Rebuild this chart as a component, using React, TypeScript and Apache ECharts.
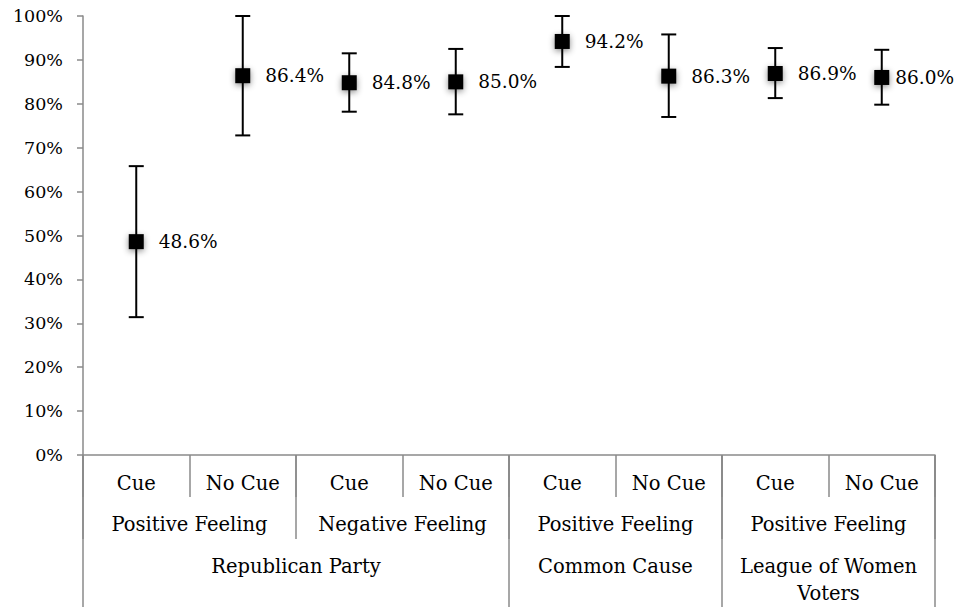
import React, { useEffect, useRef } from "react";
import * as echarts from "echarts";

const cueLabels = ["Cue", "No Cue", "Cue", "No Cue", "Cue", "No Cue", "Cue", "No Cue"];
const feelingLabels = ["Positive Feeling", "Negative Feeling", "Positive Feeling", "Positive Feeling"];
const groupLabels = ["", "", "Republican Party", "", "", "Common Cause", "", "League of Women\nVoters", ""];
const groupLabelIdx = [2, 5, 7];
const groupTickIdx = [0, 4, 6, 8];
const means = [48.6, 86.4, 84.8, 85.0, 94.2, 86.3, 86.9, 86.0];
const upper = [65.8, 100, 91.5, 92.5, 100, 95.8, 92.7, 92.3];
const lower = [31.4, 72.8, 78.2, 77.6, 88.4, 77.0, 81.3, 79.8];
const labelGaps = [15, 15, 15, 15, 15, 15, 15, 6];
const yTicks = [0, 10, 20, 30, 40, 50, 60, 70, 80, 90, 100];

const FONT = "DejaVu Serif";
const AXIS_COLOR = "#8a8a8a";

export default function App() {
  const ref = useRef<HTMLDivElement>(null);
  useEffect(() => {
    if (!ref.current) return;
    const chart = echarts.init(ref.current, undefined, { renderer: "svg" });
    const catStyle = { color: "#000", fontFamily: FONT, fontSize: 19.5 };
    chart.setOption({
      animation: false,
      grid: { left: 83, right: 21, top: 16, bottom: 149, containLabel: false },
      xAxis: [
        {
          type: "category",
          position: "bottom",
          data: cueLabels,
          boundaryGap: true,
          axisLine: { show: true, onZero: false, lineStyle: { color: AXIS_COLOR, width: 1.5 } },
          axisTick: { show: true, interval: 0, length: 42, lineStyle: { color: AXIS_COLOR, width: 1.5 } },
          axisLabel: { ...catStyle, interval: 0, margin: 18 },
          splitLine: { show: false },
        },
        {
          type: "category",
          position: "bottom",
          data: feelingLabels,
          boundaryGap: true,
          axisLine: { show: false, onZero: false },
          axisTick: { show: true, interval: 0, length: 84, lineStyle: { color: AXIS_COLOR, width: 1.5 } },
          axisLabel: { ...catStyle, interval: 0, margin: 59 },
          splitLine: { show: false },
        },
        {
          type: "category",
          position: "bottom",
          data: groupLabels,
          boundaryGap: false,
          axisLine: { show: false, onZero: false },
          axisTick: {
            show: true,
            length: 152,
            interval: (i: number) => groupTickIdx.indexOf(i) >= 0,
            lineStyle: { color: AXIS_COLOR, width: 1.5 },
          },
          axisLabel: {
            ...catStyle,
            margin: 98,
            lineHeight: 27,
            interval: (i: number) => groupLabelIdx.indexOf(i) >= 0,
          },
          splitLine: { show: false },
        },
      ],
      yAxis: {
        type: "value",
        min: yTicks[0],
        max: yTicks[yTicks.length - 1],
        interval: 10,
        axisLine: { show: true, lineStyle: { color: AXIS_COLOR, width: 1.5 } },
        axisTick: { show: true, length: 6, lineStyle: { color: AXIS_COLOR, width: 1.5 } },
        axisLabel: { color: "#000", fontFamily: FONT, fontSize: 17.5, margin: 20, formatter: "{value}%" },
        splitLine: { show: false },
      },
      series: [
        {
          type: "custom",
          xAxisIndex: 0,
          z: 2,
          data: means.map((_, i) => [i, lower[i], upper[i]]),
          renderItem: (params: any, api: any) => {
            const lo = api.coord([api.value(0), api.value(1)]);
            const hi = api.coord([api.value(0), api.value(2)]);
            const half = 7.5;
            const style = { stroke: "#000", lineWidth: 2 };
            return {
              type: "group",
              children: [
                { type: "line", shape: { x1: hi[0], y1: hi[1], x2: lo[0], y2: lo[1] }, style },
                { type: "line", shape: { x1: hi[0] - half, y1: hi[1], x2: hi[0] + half, y2: hi[1] }, style },
                { type: "line", shape: { x1: lo[0] - half, y1: lo[1], x2: lo[0] + half, y2: lo[1] }, style },
              ],
            };
          },
        },
        {
          type: "scatter",
          xAxisIndex: 0,
          z: 3,
          symbol: "rect",
          symbolSize: 15,
          data: means.map((v, i) => ({ value: v, label: { distance: labelGaps[i] } })),
          itemStyle: { color: "#000", opacity: 1, shadowBlur: 6, shadowColor: "rgba(0,0,0,0.45)", shadowOffsetY: 2 },
          emphasis: { disabled: true },
          label: {
            show: true,
            position: "right",
            color: "#000",
            fontFamily: FONT,
            fontSize: 18.5,
            formatter: (p: any) => p.value.toFixed(1) + "%",
          },
        },
      ],
    });
    return () => chart.dispose();
  }, []);
  return <div ref={ref} style={{ position: "absolute", left: 0, top: 0, width: 956, height: 607 }} />;
}
